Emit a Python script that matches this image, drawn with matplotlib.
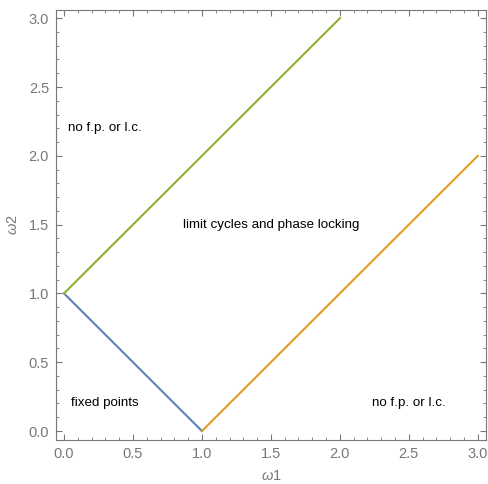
import numpy as np
import matplotlib.pyplot as plt
from matplotlib.ticker import MultipleLocator

plt.rcParams['font.family'] = ['Liberation Sans', 'DejaVu Sans']
plt.rcParams['mathtext.fontset'] = 'custom'
plt.rcParams['mathtext.rm'] = 'Liberation Sans'
plt.rcParams['mathtext.it'] = 'Liberation Sans:italic'

# boundary lines of the regions
blue_x = [0, 1]
blue_y = [1, 0]
orange_x = [1, 3]
orange_y = [0, 2]
green_x = [0, 2]
green_y = [1, 3]

labels = ["no f.p. or l.c.", "limit cycles and phase locking", "fixed points", "no f.p. or l.c."]
label_x = [0.03, 1.5, 0.05, 2.5]
label_y = [2.2, 1.5, 0.2, 0.2]
label_ha = ["left", "center", "left", "center"]

gray = "#777777"

fig = plt.figure(figsize=(4.89, 4.84), dpi=100)
ax = fig.add_axes([0.1145, 0.091, 0.879, 0.889])

ax.plot(blue_x, blue_y, color="#5E81B5", lw=1.5)
ax.plot(orange_x, orange_y, color="#E19C24", lw=1.5)
ax.plot(green_x, green_y, color="#8FB032", lw=1.5)

for t, x, y, ha in zip(labels, label_x, label_y, label_ha):
    ax.text(x, y, t, ha=ha, va="center", fontsize=9.6, color="black")

ax.set_xlim(-0.058, 3.058)
ax.set_ylim(-0.065, 3.062)

ax.xaxis.set_major_locator(MultipleLocator(0.5))
ax.xaxis.set_minor_locator(MultipleLocator(0.1))
ax.yaxis.set_major_locator(MultipleLocator(0.5))
ax.yaxis.set_minor_locator(MultipleLocator(0.1))
ax.xaxis.set_major_formatter(plt.FormatStrFormatter("%.1f"))
ax.yaxis.set_major_formatter(plt.FormatStrFormatter("%.1f"))

ax.tick_params(which="both", direction="in", top=True, right=True, color=gray,
               labelcolor=gray, labelsize=10.5, pad=5)
ax.tick_params(which="major", length=4, width=0.8)
ax.tick_params(which="minor", length=2, width=0.6)
for s in ax.spines.values():
    s.set_color(gray)
    s.set_linewidth(0.8)

ax.set_xlabel(r"$\omega$1", color=gray, fontsize=10.5, labelpad=6)
ax.set_ylabel(r"$\omega$2", color=gray, fontsize=10.5, labelpad=6)

fig.savefig("out.png", dpi=100)
